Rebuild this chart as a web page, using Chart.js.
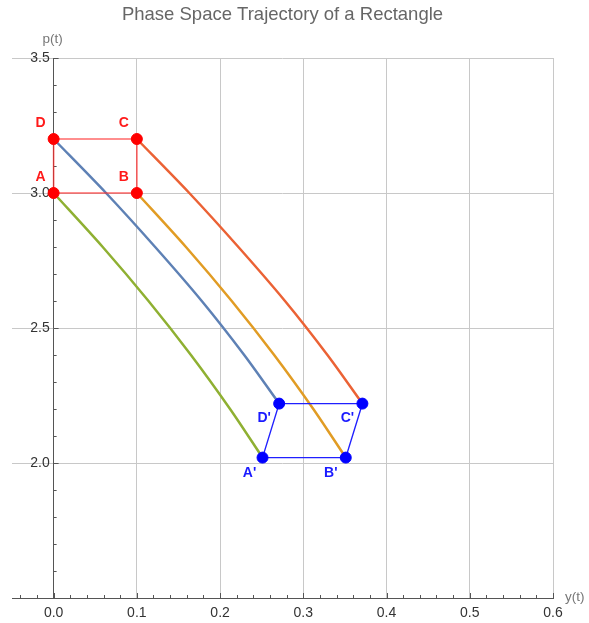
<!DOCTYPE html>
<html>
<head>
<meta charset="utf-8">
<script src="https://cdn.jsdelivr.net/npm/chart.js"></script>
<style>
  body { margin: 0; background: #fff; }
  #wrap { width: 589px; height: 623px; }
</style>
</head>
<body>
<div id="wrap"><canvas id="myChart"></canvas></div>
<script>
// corners of the starting rectangle (y, p)
const rectNames = ['A', 'B', 'C', 'D'];
const rectY = [0, 0.1, 0.1, 0];
const rectP = [3.0, 3.0, 3.2, 3.2];

// corners after the motion
const endNames = ["A'", "B'", "C'", "D'"];
const endY = [0.251, 0.351, 0.371, 0.271];
const endP = [2.02, 2.02, 2.22, 2.22];

// trajectories
const pathAy = [0, 0.059, 0.114, 0.165, 0.212, 0.251];
const pathAp = [3.0, 2.8, 2.6, 2.4, 2.2, 2.02];
const pathDy = [0, 0.063, 0.122, 0.178, 0.229, 0.271];
const pathDp = [3.2, 3.0, 2.8, 2.6, 2.4, 2.22];
const pathBy = [0.1, 0.159, 0.214, 0.265, 0.312, 0.351];
const pathBp = [3.0, 2.8, 2.6, 2.4, 2.2, 2.02];
const pathCy = [0.1, 0.163, 0.222, 0.278, 0.329, 0.371];
const pathCp = [3.2, 3.0, 2.8, 2.6, 2.4, 2.22];

const xTicks = [0, 0.1, 0.2, 0.3, 0.4, 0.5, 0.6];
const yTicks = [2.0, 2.5, 3.0, 3.5];

const fontName = '"Liberation Sans", Arial, sans-serif';

function pts(xs, ys) {
  return xs.map((x, i) => ({ x: x, y: ys[i] }));
}
function closed(xs, ys) {
  let p = pts(xs, ys);
  p.push(p[0]);
  return p;
}

function curve(xs, ys, color) {
  return {
    data: pts(xs, ys),
    showLine: true,
    borderColor: color,
    borderWidth: 2.5,
    pointRadius: 0,
    tension: 0.3,
    order: 3
  };
}

// inward tick marks, axis names and corner letters
const extras = {
  id: 'extras',
  beforeDatasetsDraw(chart) {
    const ctx = chart.ctx;
    const xs = chart.scales.x, ys = chart.scales.y;
    const x0 = xs.getPixelForValue(0);
    const yb = ys.getPixelForValue(1.5);
    ctx.save();
    ctx.strokeStyle = '#555';
    ctx.lineWidth = 1;
    for (let i = -2; i <= 30; i++) {
      let v = i * 0.02;
      let px = Math.round(xs.getPixelForValue(v)) + 0.5;
      let len = (i % 5 === 0) ? 5 : 3;
      ctx.beginPath();
      ctx.moveTo(px, yb);
      ctx.lineTo(px, yb - len);
      ctx.stroke();
    }
    for (let i = 15; i <= 35; i++) {
      let v = i * 0.1;
      let py = Math.round(ys.getPixelForValue(v)) + 0.5;
      let len = (i % 5 === 0) ? 5 : 3;
      ctx.beginPath();
      ctx.moveTo(x0, py);
      ctx.lineTo(x0 + len, py);
      ctx.stroke();
    }
    ctx.restore();
  },
  afterDatasetsDraw(chart) {
    const ctx = chart.ctx;
    const xs = chart.scales.x, ys = chart.scales.y;
    ctx.save();
    ctx.font = '13.5px ' + fontName;
    ctx.fillStyle = '#777';
    ctx.textAlign = 'center';
    ctx.textBaseline = 'middle';
    ctx.fillText('p(t)', xs.getPixelForValue(0) - 1, ys.getPixelForValue(3.5) - 19);
    ctx.textAlign = 'left';
    ctx.fillText('y(t)', xs.getPixelForValue(0.6) + 12, ys.getPixelForValue(1.5) - 1);

    ctx.font = 'bold 14px ' + fontName;
    ctx.textAlign = 'center';
    ctx.fillStyle = '#ff1a1a';
    rectNames.forEach((n, i) => {
      ctx.fillText(n, xs.getPixelForValue(rectY[i]) - 13, ys.getPixelForValue(rectP[i]) - 16);
    });
    ctx.fillStyle = '#1a1aff';
    endNames.forEach((n, i) => {
      let dy = endP[i] < 2.1 ? 16 : 15;
      let dx = i === 0 ? -13 : -15;
      ctx.fillText(n, xs.getPixelForValue(endY[i]) + dx, ys.getPixelForValue(endP[i]) + dy);
    });
    ctx.restore();
  }
};

const ctx = document.getElementById('myChart').getContext('2d');
const config = {
  type: 'scatter',
  data: {
    datasets: [
      curve(pathAy, pathAp, '#8fb032'),
      curve(pathDy, pathDp, '#5e81b5'),
      curve(pathBy, pathBp, '#e19c24'),
      curve(pathCy, pathCp, '#eb6235'),
      {
        data: closed(rectY, rectP),
        showLine: true,
        borderColor: 'rgba(255, 40, 40, 0.7)',
        borderWidth: 1.6,
        pointRadius: 0,
        order: 2
      },
      {
        data: closed(endY, endP),
        showLine: true,
        borderColor: '#2020ff',
        borderWidth: 1.4,
        pointRadius: 0,
        order: 2
      },
      {
        data: pts(rectY, rectP),
        backgroundColor: '#ff0000',
        borderColor: '#ff0000',
        pointRadius: 5.5,
        order: 1
      },
      {
        data: pts(endY, endP),
        backgroundColor: '#0000ff',
        borderColor: '#0000ff',
        pointRadius: 5.5,
        order: 1
      }
    ]
  },
  options: {
    responsive: true,
    maintainAspectRatio: false,
    animation: false,
    layout: { padding: { left: 12, right: 36, top: 0, bottom: 25 } },
    plugins: {
      legend: { display: false },
      tooltip: { enabled: false },
      title: {
        display: true,
        text: 'Phase Space Trajectory of a Rectangle',
        color: '#666',
        font: { family: fontName, size: 18.5, weight: 'normal' },
        padding: { top: 4, bottom: 31.8 }
      }
    },
    scales: {
      x: {
        type: 'linear',
        min: -0.05,
        max: 0.6,
        position: { y: 1.5 },
        afterBuildTicks: s => { s.ticks = xTicks.map(v => ({ value: v })); },
        ticks: {
          padding: 7,
          color: '#333',
          font: { family: fontName, size: 14 },
          callback: v => v.toFixed(1)
        },
        grid: {
          drawTicks: false,
          color: c => (c.tick && c.tick.value === 0) ? 'rgba(0,0,0,0)' : '#c8c8c8'
        },
        border: { color: '#555', width: 1 }
      },
      y: {
        type: 'linear',
        min: 1.5,
        max: 3.5,
        position: { x: 0 },
        afterBuildTicks: s => { s.ticks = yTicks.map(v => ({ value: v })); },
        ticks: {
          color: '#333',
          font: { family: fontName, size: 14 },
          // trailing space keeps the label just off the axis line
          callback: v => v.toFixed(1) + ' '
        },
        grid: {
          drawTicks: false,
          color: '#c8c8c8'
        },
        border: { color: '#555', width: 1 }
      }
    }
  },
  plugins: [extras]
};
let myChart = new Chart(ctx, config);
</script>
</body>
</html>
